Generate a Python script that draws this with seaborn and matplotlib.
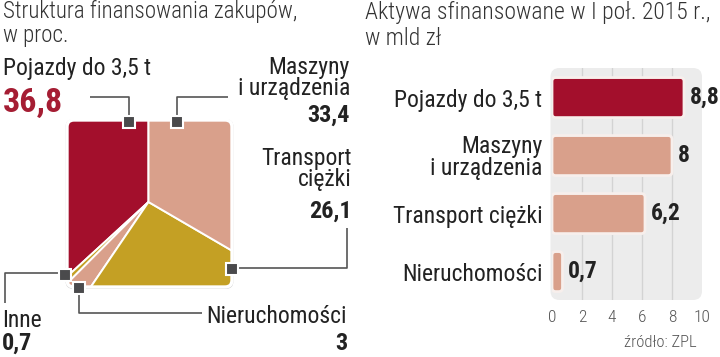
import matplotlib
matplotlib.use("Agg")
import matplotlib.pyplot as plt
import seaborn as sns
import pandas as pd
from matplotlib.patches import FancyBboxPatch
from matplotlib import font_manager

# ---------------- data ----------------
pie_labels = ["Pojazdy do 3,5 t", "Inne", "Nieruchomości", "Transport ciężki", "Maszyny i urządzenia"]
pie_values = [36.8, 0.7, 3.0, 26.1, 33.4]
pie_value_text = ["36,8", "0,7", "3", "26,1", "33,4"]

bar_categories = ["Pojazdy do 3,5 t", "Maszyny\ni urządzenia", "Transport ciężki", "Nieruchomości"]
bar_values = [8.8, 8.0, 6.2, 0.7]
x_ticks = [0, 2, 4, 6, 8, 10]

source_text = "źródło: ZPL"

# ---------------- style ----------------
RED = "#A30F2C"
SALMON = "#D9A08B"
GOLD = "#C4A024"
DARK = "#222222"
GREY = "#555555"
SQ = "#4A4A4C"

sns.set_theme(style="white")

fonts = font_manager.fontManager.ttflist
names = {f.name for f in fonts}
STRETCH = "normal"
if "Roboto Condensed" in names:
    FONT = "Roboto Condensed"
elif "Liberation Sans Narrow" in names:
    FONT = "Liberation Sans Narrow"
elif any(f.name == "DejaVu Sans" and f.stretch in ("condensed", "semi-condensed") for f in fonts):
    FONT = "DejaVu Sans"
    STRETCH = "condensed"
else:
    FONT = "Roboto"
plt.rcParams["font.family"] = [FONT, "DejaVu Sans"]
plt.rcParams["font.stretch"] = STRETCH

fig = plt.figure(figsize=(7.2, 3.57), dpi=100)
fig.patch.set_facecolor("white")

base = fig.add_axes([0, 0, 1, 1])
pie_colors = [RED, GOLD, SALMON, GOLD, SALMON]

shadow = FancyBboxPatch((65.5, 119), 168, 170, boxstyle="round,pad=0,rounding_size=8",
                        facecolor="#d0d0d0", edgecolor="none", zorder=1)
base.add_patch(shadow)
clipbox = FancyBboxPatch((67, 120), 165, 167, boxstyle="round,pad=0,rounding_size=7",
                         facecolor="none", edgecolor="white", linewidth=2.4, zorder=3)
base.add_patch(clipbox)

wedges, _ = base.pie(pie_values, colors=pie_colors, startangle=-90, counterclock=False,
                     center=(148.5, 202), radius=230,
                     wedgeprops=dict(edgecolor="white", linewidth=1.4))
for w in wedges:
    w.set_clip_on(True)
    w.set_clip_path(clipbox)
    w.set_zorder(2)

base.set_xlim(0, 720)
base.set_ylim(357, 0)
base.set_aspect("auto")
base.axis("off")

line_kw = dict(color=GREY, lw=1.2, zorder=4, solid_capstyle="butt")
sq_kw = dict(marker="s", ms=8, mfc=SQ, mec="white", mew=1.5, zorder=6, linestyle="none")
base.plot([90, 128.5, 128.5], [97, 97, 121.5], **line_kw)
base.plot([128.5], [121.5], **sq_kw)
base.plot([228, 176.5, 176.5], [97, 97, 121.5], **line_kw)
base.plot([176.5], [121.5], **sq_kw)
base.plot([231.5, 347, 347], [268, 268, 228], **line_kw)
base.plot([231.5], [268.5], **sq_kw)
base.plot([65, 5, 5], [273, 273, 303], **line_kw)
base.plot([65], [275], **sq_kw)
base.plot([79, 79, 202], [287, 313, 313], **line_kw)
base.plot([79], [287.5], **sq_kw)

# titles
t_kw = dict(color="#333333", va="baseline", ha="left", fontweight="light")
base.text(3, 18, "Struktura finansowania zakupów,", fontsize=16.6, **t_kw)
base.text(3, 42, "w proc.", fontsize=16.6, **t_kw)
base.text(365, 19, "Aktywa sfinansowane w I poł. 2015 r.,", fontsize=17, **t_kw)
base.text(365, 45, "w mld zł", fontsize=17, **t_kw)

# pie labels
lab_kw = dict(fontsize=17, color=DARK, va="baseline")
num_kw = dict(fontsize=17.5, color=DARK, va="baseline", fontweight="bold")
base.text(3, 75, pie_labels[0], ha="left", **lab_kw)
base.text(3, 112, pie_value_text[0], ha="left", fontsize=24.5, color="#A51D33",
          fontweight="bold", va="baseline")
base.text(350, 74, "Maszyny", ha="right", **lab_kw)
base.text(350, 95, "i urządzenia", ha="right", **lab_kw)
base.text(350, 122, pie_value_text[4], ha="right", **num_kw)
base.text(352, 165, "Transport", ha="right", **lab_kw)
base.text(352, 186, "ciężki", ha="right", **lab_kw)
base.text(352, 218, pie_value_text[3], ha="right", **num_kw)
base.text(2, 327, pie_labels[1], ha="left", **lab_kw)
base.text(2, 350, pie_value_text[1], ha="left", **num_kw)
base.text(347, 323, pie_labels[2], ha="right", **lab_kw)
base.text(347, 350, pie_value_text[2], ha="right", **num_kw)

base.text(697, 347, source_text, fontsize=12, color=GREY, ha="right", va="baseline",
          fontweight="light")

# ---------------- bar chart ----------------
ax = fig.add_axes([552 / 720, 57 / 357, 150 / 720, 232 / 357])
df = pd.DataFrame({"cat": bar_categories, "val": bar_values})
bar_palette = [RED, SALMON, SALMON, SALMON]
sns.barplot(data=df, x="val", y="cat", hue="cat", palette=bar_palette, legend=False,
            orient="h", width=0.69, ax=ax, saturation=1)

ax.set_xlim(0, 10)
ax.set_ylim(3.49, -0.51)
ax.set_xticks(x_ticks)
ax.set_xticklabels([str(t) for t in x_ticks], fontweight="light")
ax.set_xlabel("")
ax.set_ylabel("")
ax.patch.set_visible(False)
for s in ax.spines.values():
    s.set_visible(False)
ax.tick_params(axis="x", length=0, pad=7, labelsize=12.5, labelcolor=GREY)
ax.tick_params(axis="y", length=0, pad=7, labelsize=17, labelcolor=DARK)
for lbl in ax.get_yticklabels():
    lbl.set_multialignment("right")
    lbl.set_linespacing(0.95)

ax.set_axisbelow(True)
ax.xaxis.grid(True, color="#d3d3d3", lw=1)
gl = ax.get_xgridlines()
gl[0].set_visible(False)
gl[-1].set_visible(False)

bg = FancyBboxPatch((-0.01, 0), 1.01, 1, transform=ax.transAxes,
                    boxstyle="round,pad=0,rounding_size=0.06", mutation_aspect=150 / 232,
                    facecolor="#ECECEC", edgecolor="none", zorder=0, clip_on=False)
ax.add_patch(bg)

for cont in ax.containers:
    labels = [f"{b.get_width():g}".replace(".", ",") for b in cont]
    ax.bar_label(cont, labels=labels, padding=4, fontsize=17, fontweight="bold", color=DARK)
    for b in cont:
        x0, y0 = b.get_xy()
        w, h = b.get_width(), b.get_height()
        fb = FancyBboxPatch((x0, y0), w, h, boxstyle="round,pad=0,rounding_size=0.25",
                            mutation_aspect=0.259, facecolor=b.get_facecolor(),
                            edgecolor="#f7efec", linewidth=2.0, zorder=2)
        b.set_visible(False)
        ax.add_patch(fb)

fig.savefig("out.png", dpi=100)
